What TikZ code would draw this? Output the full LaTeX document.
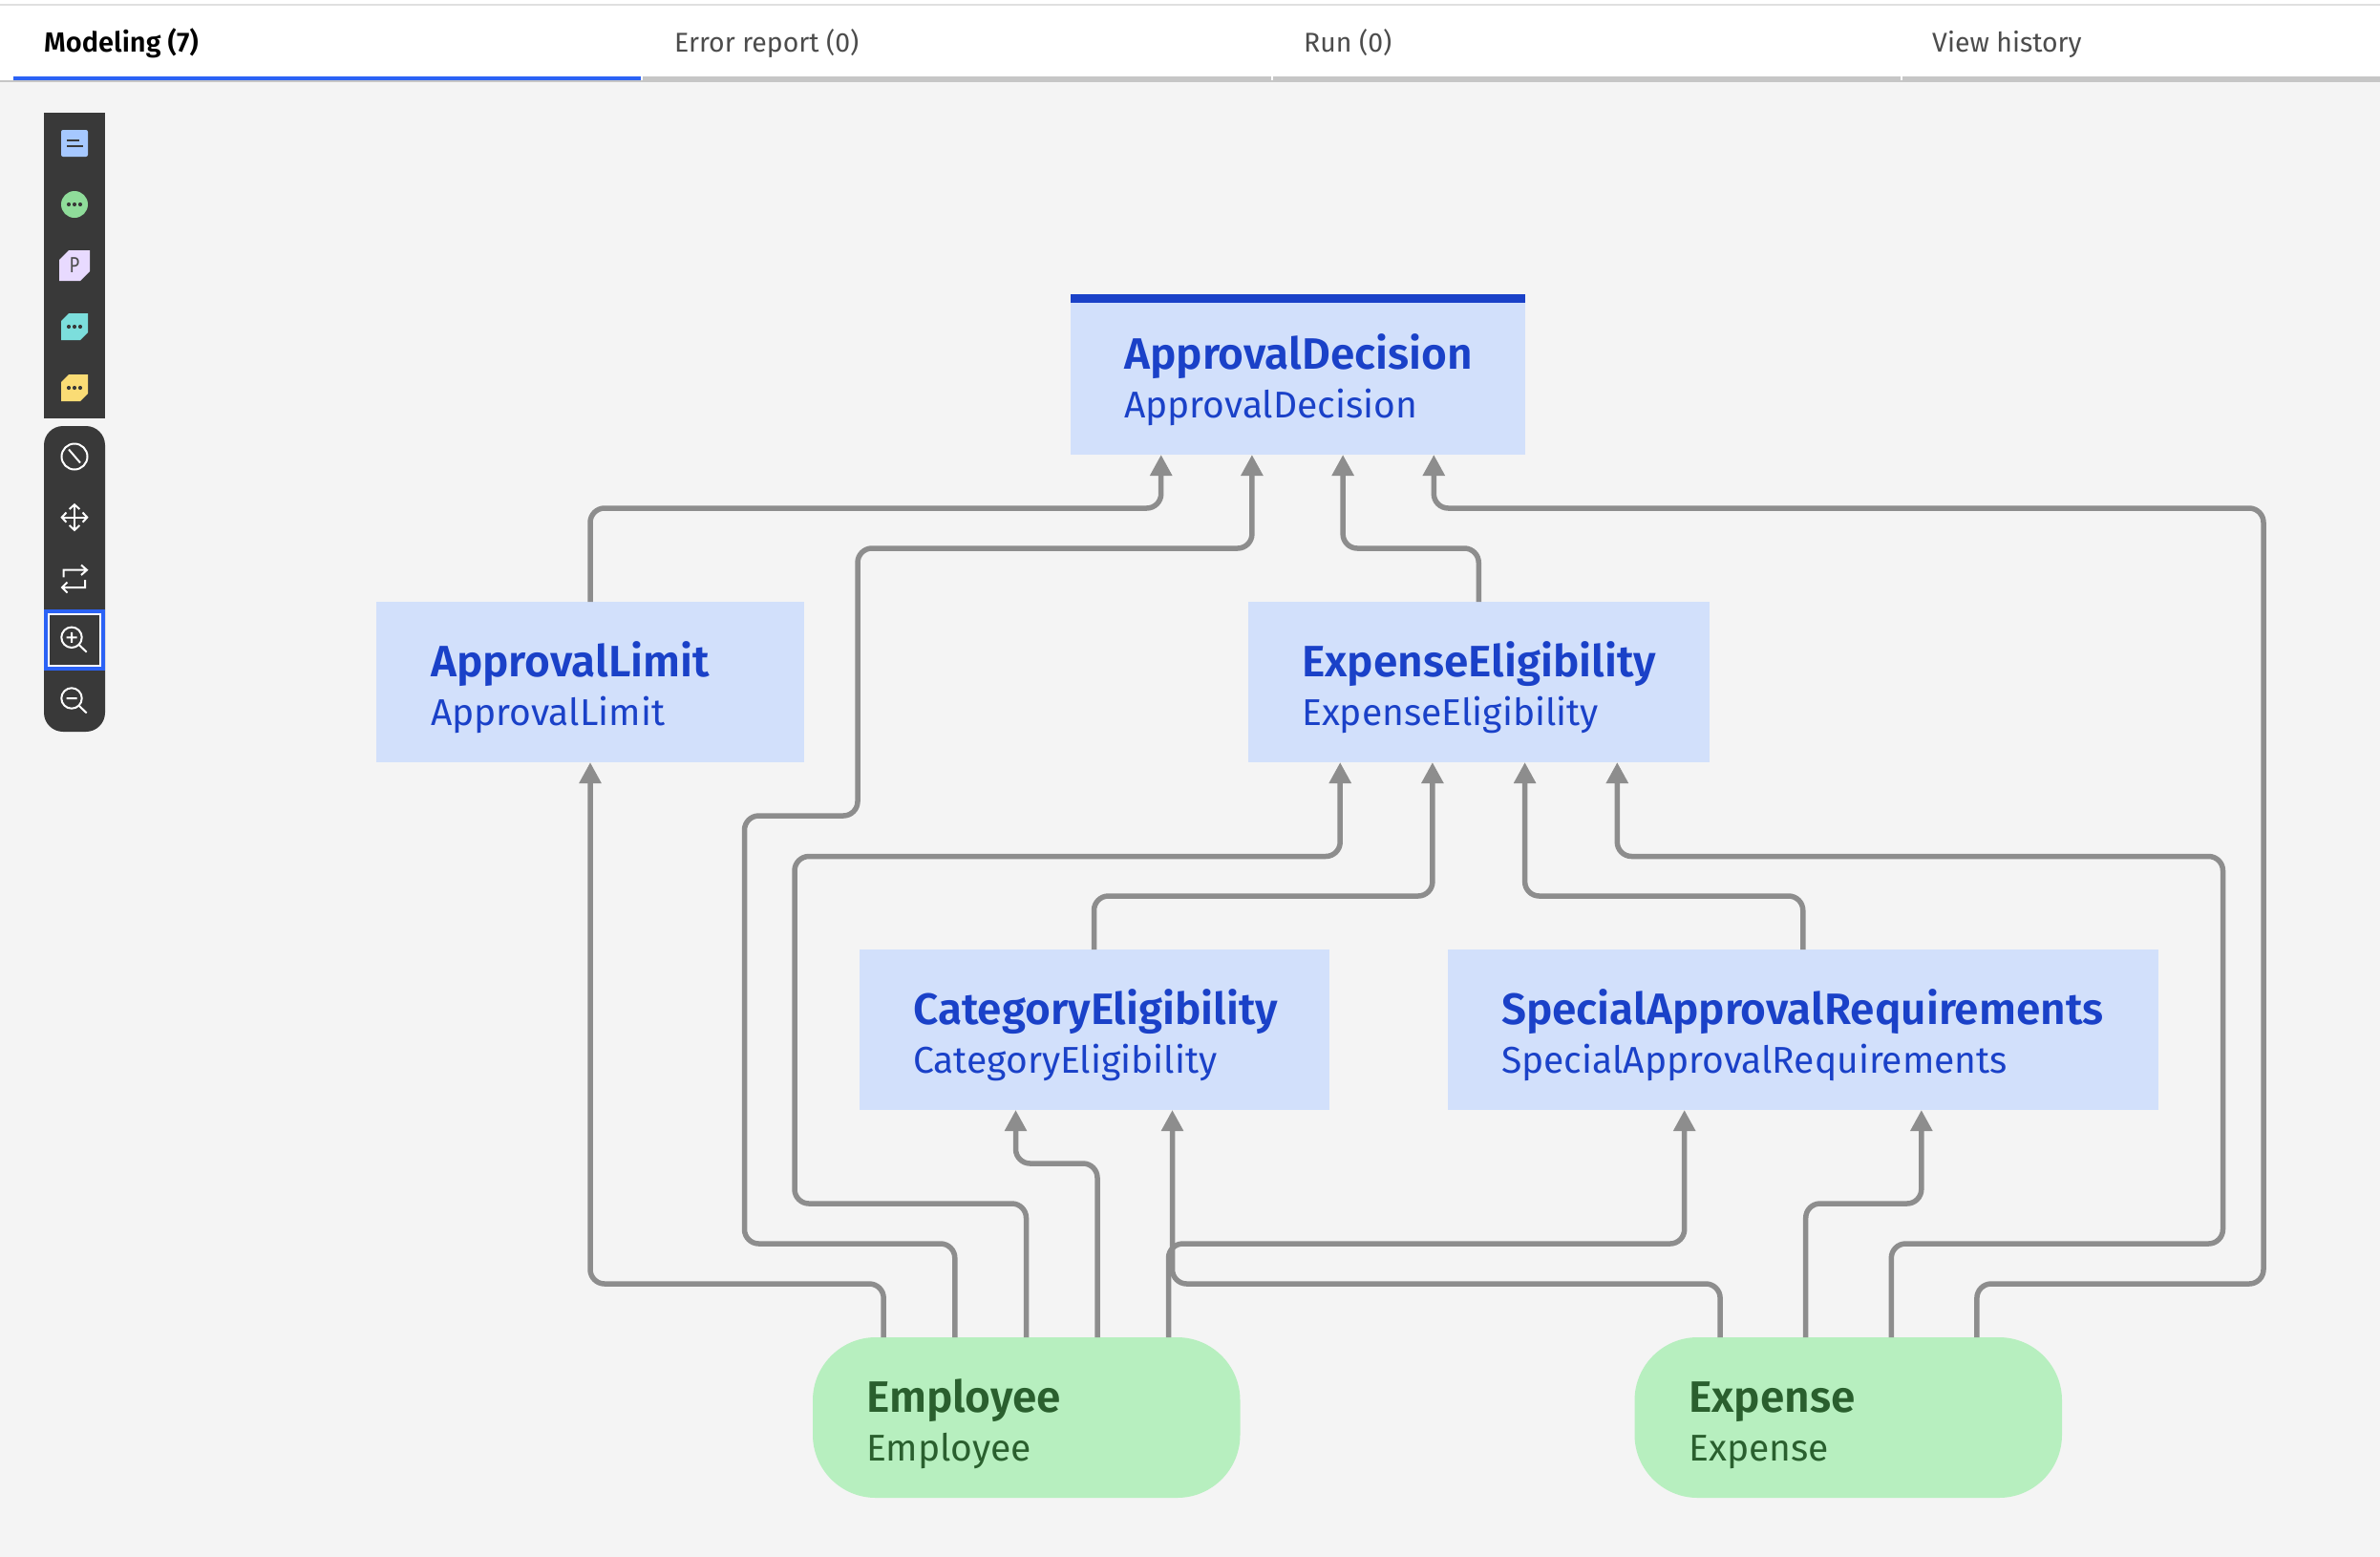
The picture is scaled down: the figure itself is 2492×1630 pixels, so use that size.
\documentclass[tikz,border=0pt]{standalone}
\usepackage{fontspec}
\setmainfont{Fira Sans}
\newfontfamily\semibf{Fira Sans SemiBold}
\usetikzlibrary{arrows.meta}
\definecolor{bgc}{HTML}{F4F4F4}
\definecolor{tabline}{HTML}{C6C6C6}
\definecolor{toplinec}{HTML}{E0E0E0}
\definecolor{selblue}{HTML}{2B62F5}
\definecolor{tooldark}{HTML}{393939}
\definecolor{boxblue}{HTML}{D2E0FB}
\definecolor{txtblue}{HTML}{1A41C8}
\definecolor{boxgreen}{HTML}{B7EFBF}
\definecolor{txtgreen}{HTML}{2A5F2E}
\definecolor{wire}{HTML}{8D8D8D}
\definecolor{iconblue}{HTML}{A6C8FF}
\definecolor{icongreen}{HTML}{8FDC9A}
\definecolor{iconpurple}{HTML}{E8DAFF}
\definecolor{iconteal}{HTML}{7CDEDC}
\definecolor{iconyellow}{HTML}{FADC75}
\tikzset{
  entitybox/.style={rectangle,fill=boxblue,inner sep=0pt,outer sep=0pt,anchor=north west,minimum height=168pt},
  inputbox/.style={rectangle,rounded corners=66pt,fill=boxgreen,inner sep=0pt,outer sep=0pt,anchor=north west,minimum height=168pt,minimum width=447.5pt},
  titlelabel/.style={anchor=base west,inner sep=0pt,font=\fontsize{46}{50}\selectfont\semibf},
  sublabel/.style={anchor=base west,inner sep=0pt,font=\fontsize{39}{44}\selectfont},
  tablabel/.style={anchor=base west,inner sep=0pt,font=\fontsize{28.4}{32}\selectfont,text=black!70},
  wireline/.style={draw=wire,line width=5.5pt,rounded corners=15pt,-{Triangle[width=22pt,length=22pt]}},
  icon/.style={line width=2pt,draw=white},
}
\newcommand{\icondots}[2]{\fill[tooldark] (#1-6,#2) circle (2.1) (#1,#2) circle (2.1) (#1+6,#2) circle (2.1);}
\begin{document}
\begin{tikzpicture}[x=1pt,y=-1pt]
\useasboundingbox (0,0) rectangle (2492,1630);
\fill[bgc] (0,0) rectangle (2492,1630);
% tab bar
\fill[white] (0,0) rectangle (2492,80);
\fill[toplinec] (0,4) rectangle (2492,6);
\fill[tabline] (0,80) rectangle (2492,86);
\fill[white] (671,80) rectangle (672.5,84);
\fill[white] (1331,80) rectangle (1332.5,84);
\fill[white] (1990,80) rectangle (1991.5,84);
\fill[white] (0,80) rectangle (14,84);
\fill[selblue] (14,80) rectangle (671,84);
\node[tablabel,text=black,font=\fontsize{29}{32}\selectfont\semibf] (tab1) at (46,54) {Modeling (7)};
\node[tablabel] (tab2) at (706,54) {Error report (0)};
\node[tablabel] (tab3) at (1365,54) {Run (0)};
\node[tablabel] (tab4) at (2023,54) {View history};
% toolbars
\fill[tooldark] (46,118) rectangle (110,438);
\fill[tooldark,rounded corners=20pt] (46,446) rectangle (110,766);
\fill[iconblue,rounded corners=2pt] (64,136) rectangle (92,164);
\draw[tooldark,line width=2pt] (70,147) -- (83,147) (70,153) -- (87,153);
\fill[icongreen] (78,214) circle (14);
\icondots{78}{214}
\fill[iconpurple] (72,262) -- (94,262) -- (94,284) -- (84,294) -- (62,294) -- (62,272) -- cycle;
\node[inner sep=0pt,text=tooldark!90,xscale=.8,font=\fontsize{23}{24}\selectfont] (picon) at (78,278) {P};
\fill[iconteal] (72,328) -- (92,328) -- (92,348) -- (84,356) -- (64,356) -- (64,336) -- cycle;
\icondots{78}{342}
\fill[iconyellow] (72,392) -- (92,392) -- (92,412) -- (84,420) -- (64,420) -- (64,400) -- cycle;
\icondots{78}{406}
\draw[icon] (78,478) circle (13.5) (72,470.5) -- (84,484.5);
\draw[icon] (64.7,541.7) -- (91.3,541.7) (78,528.3) -- (78,555);
\draw[icon] (69.5,536.5) -- (64.7,541.7) -- (69.5,546.7) (86.5,536.5) -- (91.3,541.7) -- (86.5,546.7);
\draw[icon] (72.7,533) -- (78,528.3) -- (83.3,533) (72.7,550) -- (78,555) -- (83.3,550);
\draw[icon] (66.7,604.3) -- (66.7,596.7) -- (91,596.7) (85,591.5) -- (91,596.7) -- (85,602);
\draw[icon] (89,607) -- (89,615) -- (65,615) (70.5,609.5) -- (65,615) -- (70.5,620.5);
\fill[selblue] (46,638) rectangle (110,702);
\fill[white] (50,642) rectangle (106,698);
\fill[tooldark] (52,644) rectangle (104,696);
\draw[icon] (75,667.3) circle (10.7) (82.7,675) -- (90.7,682.7) (69.5,667.3) -- (80.5,667.3) (75,661.8) -- (75,672.8);
\draw[icon] (75,731) circle (10.7) (82.7,738.7) -- (90.7,746.5) (69.5,731) -- (80.5,731);
% entities
\node[entitybox,minimum width=476pt] (ad) at (1120.5,308) {};
\fill[txtblue] (ad.north west) rectangle ([yshift=-8.7pt]ad.north east);
\node[entitybox,minimum width=448pt] (al) at (394,630) {};
\node[entitybox,minimum width=483.5pt] (ee) at (1306.5,630) {};
\node[entitybox,minimum width=492pt] (ce) at (899.5,994) {};
\node[entitybox,minimum width=744.5pt] (sa) at (1515.5,994) {};
\node[inputbox] (em) at (851,1400) {};
\node[inputbox] (ex) at (1711.5,1400) {};
% labels
\begin{scope}[text=txtblue]
\node[titlelabel] (adt) at (1177,386) {ApprovalDecision};
\node[sublabel] (ads) at (1177,437) {ApprovalDecision};
\node[titlelabel] (alt) at (451,708) {ApprovalLimit};
\node[sublabel] (als) at (451,759) {ApprovalLimit};
\node[titlelabel] (eet) at (1363,708) {ExpenseEligibility};
\node[sublabel] (ees) at (1363,759) {ExpenseEligibility};
\node[titlelabel] (cet) at (956,1072) {CategoryEligibility};
\node[sublabel] (ces) at (956,1123) {CategoryEligibility};
\node[titlelabel] (sat) at (1572,1072) {SpecialApprovalRequirements};
\node[sublabel] (sas) at (1572,1123) {SpecialApprovalRequirements};
\end{scope}
\begin{scope}[text=txtgreen]
\node[titlelabel] (emt) at (907,1478) {Employee};
\node[sublabel] (ems) at (907,1529) {Employee};
\node[titlelabel] (ext) at (1768,1478) {Expense};
\node[sublabel] (exs) at (1768,1529) {Expense};
\end{scope}
% connectors
\draw[wireline] ([xshift=74.2pt]em.north west) -- (925.2,1344) -- (618,1344) -- (al.south);
\draw[wireline] ([xshift=148.8pt]em.north west) -- (999.8,1302) -- (779.5,1302) -- (779.5,854) -- (898,854) -- (898,574) -- (1310.9,574) -- ([xshift=190.4pt]ad.south west);
\draw[wireline] ([xshift=223.5pt]em.north west) -- (1074.5,1260) -- (832,1260) -- (832,896.5) -- (1403.2,896.5) -- ([xshift=96.7pt]ee.south west);
\draw[wireline] ([xshift=298pt]em.north west) -- (1149,1218) -- (1063.5,1218) -- ([xshift=164pt]ce.south west);
\draw[wireline] ([xshift=372.5pt]em.north west) -- (1223.5,1302) -- (1763.7,1302) -- ([xshift=248.17pt]sa.south west);
\draw[wireline] ([xshift=89.6pt]ex.north west) -- (1801.1,1344) -- (1227.5,1344) -- ([xshift=328pt]ce.south west);
\draw[wireline] ([xshift=179.2pt]ex.north west) -- (1890.7,1260) -- (2011.8,1260) -- ([xshift=496.33pt]sa.south west);
\draw[wireline] ([xshift=268.8pt]ex.north west) -- (1980.3,1302) -- (2327.5,1302) -- (2327.5,896.5) -- (1693.3,896.5) -- ([xshift=386.8pt]ee.south west);
\draw[wireline] ([xshift=358.4pt]ex.north west) -- (2069.9,1344) -- (2370,1344) -- (2370,532) -- (1501.3,532) -- ([xshift=380.8pt]ad.south west);
\draw[wireline] (al.north) -- (618,532) -- (1215.7,532) -- ([xshift=95.2pt]ad.south west);
\draw[wireline] (ee.north) -- (1548.25,574) -- (1406.1,574) -- ([xshift=285.6pt]ad.south west);
\draw[wireline] (ce.north) -- (1145.5,938) -- (1499.9,938) -- ([xshift=193.4pt]ee.south west);
\draw[wireline] (sa.north) -- (1887.75,938) -- (1596.6,938) -- ([xshift=290.1pt]ee.south west);
\end{tikzpicture}
\end{document}
